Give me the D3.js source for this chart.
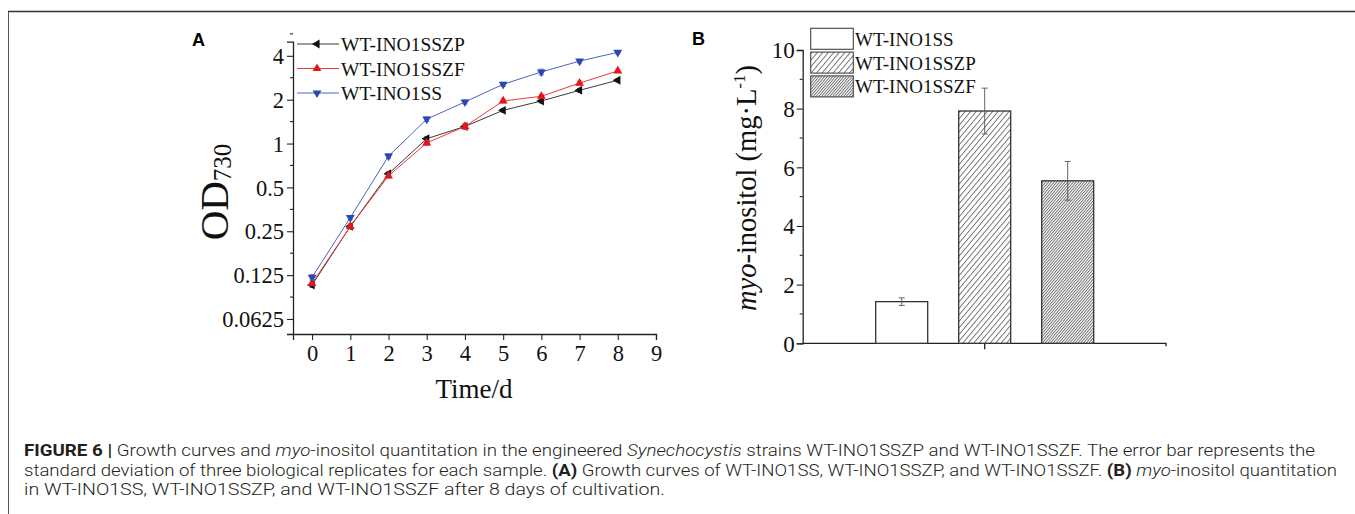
<!DOCTYPE html>
<html>
<head>
<meta charset="utf-8">
<script src="https://cdn.jsdelivr.net/npm/d3@7"></script>
<style>
  body { margin: 0; background: #fff; }
  svg { display: block; }
</style>
</head>
<body>
<div id="fig"></div>
<script>
// panel A data: OD730 over time
var days = [0, 1, 2, 3, 4, 5, 6, 7, 8];
var odSSZP = [0.107, 0.27, 0.62, 1.08, 1.31, 1.69, 1.96, 2.32, 2.72];
var odSSZF = [0.110, 0.27, 0.60, 1.01, 1.31, 1.96, 2.11, 2.60, 3.15];
var odSS   = [0.121, 0.31, 0.82, 1.47, 1.93, 2.55, 3.10, 3.68, 4.23];
var sdSSZP = [0.004, 0.01, 0.02, 0.04, 0.05, 0.05, 0.06, 0.07, 0.07];
var sdSSZF = [0.004, 0.01, 0.02, 0.04, 0.06, 0.06, 0.06, 0.08, 0.08];
var sdSS   = [0.005, 0.01, 0.03, 0.05, 0.06, 0.08, 0.14, 0.10, 0.10];
var odTicks = [0.0625, 0.125, 0.25, 0.5, 1, 2, 4];
var dayTicks = [0, 1, 2, 3, 4, 5, 6, 7, 8, 9];

// panel B data: myo-inositol titre
var strains = ["WT-INO1SS", "WT-INO1SSZP", "WT-INO1SSZF"];
var inositol = [1.42, 7.92, 5.54];
var inositolSd = [0.13, 0.78, 0.66];
var inoTicks = [0, 2, 4, 6, 8, 10];

var W = 1355, H = 514;
var serif = "'Liberation Serif', 'Times New Roman', serif";
var axisCol = "#222";

var svg = d3.select("#fig").append("svg")
  .attr("width", W)
  .attr("height", H);

// frame
svg.append("line").attr("x1", 8.5).attr("y1", 11.5).attr("x2", 8.5).attr("y2", H)
  .attr("stroke", "#555").attr("stroke-width", 1);
svg.append("line").attr("x1", 8).attr("y1", 11.5).attr("x2", W).attr("y2", 11.5)
  .attr("stroke", "#333").attr("stroke-width", 1.6);

// hatch patterns
var defs = svg.append("defs");
function hatch(id, gap) {
  var p = defs.append("pattern")
    .attr("id", id)
    .attr("patternUnits", "userSpaceOnUse")
    .attr("width", gap).attr("height", gap)
    .attr("patternTransform", "rotate(40)");
  p.append("rect").attr("width", gap).attr("height", gap).attr("fill", "#fff");
  p.append("line").attr("x1", 0.5).attr("y1", 0).attr("x2", 0.5).attr("y2", gap)
    .attr("stroke", "#555").attr("stroke-width", 0.8);
}
hatch("hatchP", 4.2);
hatch("hatchF", 2.1);
var fills = ["#fff", "url(#hatchP)", "url(#hatchF)"];

////////////////////////////////////////////
/////////////// Panel A ////////////////////
////////////////////////////////////////////

var xA = d3.scaleLinear().domain([-0.5, 9]).range([293, 656]);
var yA = d3.scaleLog().base(2).domain([0.0493, 5]).range([334, 41.7]);

svg.append("text")
  .attr("x", 192).attr("y", 46)
  .attr("font-family", "'Liberation Sans', Arial, sans-serif")
  .attr("font-weight", "bold").attr("font-size", 18)
  .text("A");

// y axis
var gyA = svg.append("g").attr("transform", "translate(293,0)")
  .call(d3.axisLeft(yA).tickValues(odTicks).tickFormat(d3.format("")).tickSizeOuter(0).tickSize(6));
// minor ticks halfway (in log space)
gyA.selectAll(".minor")
  .data(odTicks.map(function(d) { return d * Math.SQRT2; }))
  .enter().append("line")
  .attr("class", "minor")
  .attr("x1", -3).attr("x2", 0)
  .attr("y1", function(d) { return yA(d); })
  .attr("y2", function(d) { return yA(d); })
  .attr("stroke", axisCol);

// x axis
var gxA = svg.append("g").attr("transform", "translate(0,334)")
  .call(d3.axisBottom(xA).tickValues(dayTicks).tickSizeOuter(0).tickSize(6));

[gyA, gxA].forEach(function(g) {
  g.select(".domain").attr("stroke", axisCol).attr("stroke-width", 1.3);
  g.selectAll(".tick line").attr("stroke", axisCol).attr("stroke-width", 1.1);
  g.selectAll(".minor").attr("stroke-width", 1.1);
  g.selectAll(".tick text")
    .attr("font-family", serif).attr("font-size", 22.5).attr("fill", "#111");
});
gyA.selectAll(".tick text").attr("x", -9).attr("dy", "0.34em");
gxA.selectAll(".tick text").attr("y", 11);

// axis titles
var odLab = svg.append("text")
  .attr("transform", "translate(228,192) rotate(-90)")
  .attr("text-anchor", "middle")
  .attr("font-family", serif).attr("font-size", 41).attr("fill", "#111");
odLab.append("tspan").text("OD");
odLab.append("tspan").attr("font-size", 25).attr("dy", 3).text("730");

svg.append("text")
  .attr("x", 474).attr("y", 398)
  .attr("text-anchor", "middle")
  .attr("font-family", serif).attr("font-size", 27).attr("fill", "#111")
  .text("Time/d");

var seriesA = [
  { name: "WT-INO1SSZP", vals: odSSZP, sd: sdSSZP, line: "#3a3a3a", mark: "#111", rot: -90 },
  { name: "WT-INO1SSZF", vals: odSSZF, sd: sdSSZF, line: "#e83a3a", mark: "#e8141c", rot: 0 },
  { name: "WT-INO1SS",   vals: odSS,   sd: sdSS,   line: "#4a64c4", mark: "#2b48b0", rot: 180 }
];

var lineA = d3.line()
  .x(function(d) { return xA(d[0]); })
  .y(function(d) { return yA(d[1]); });
var tri = d3.symbol().type(d3.symbolTriangle).size(34);

seriesA.forEach(function(s) {
  var pts = days.map(function(t, i) { return [t, s.vals[i], s.sd[i]]; });
  var g = svg.append("g");
  g.append("path")
    .attr("d", lineA(pts))
    .attr("fill", "none")
    .attr("stroke", s.line)
    .attr("stroke-width", 1);
  // error bars
  g.selectAll(".err").data(pts).enter().append("path")
    .attr("d", function(d) {
      var x = xA(d[0]), y1 = yA(d[1] + d[2]), y2 = yA(d[1] - d[2]);
      return "M" + (x - 2.5) + "," + y1 + "H" + (x + 2.5) +
        "M" + x + "," + y1 + "V" + y2 +
        "M" + (x - 2.5) + "," + y2 + "H" + (x + 2.5);
    })
    .attr("stroke", s.line).attr("stroke-width", 0.8).attr("fill", "none");
  g.selectAll(".mk").data(pts).enter().append("path")
    .attr("d", tri)
    .attr("transform", function(d) {
      return "translate(" + xA(d[0]) + "," + yA(d[1]) + ") rotate(" + s.rot + ")";
    })
    .attr("fill", s.mark);
});

// legend A
var legA = svg.append("g");
seriesA.forEach(function(s, i) {
  var y = 44 + i * 24.5;
  legA.append("line")
    .attr("x1", 297).attr("x2", 339).attr("y1", y).attr("y2", y)
    .attr("stroke", s.line).attr("stroke-width", 1);
  legA.append("path")
    .attr("d", tri)
    .attr("transform", "translate(317," + y + ") rotate(" + s.rot + ")")
    .attr("fill", s.mark);
  legA.append("text")
    .attr("x", 341).attr("y", y + 7)
    .attr("font-family", serif).attr("font-size", 19.5).attr("fill", "#111")
    .text(s.name);
});

////////////////////////////////////////////
/////////////// Panel B ////////////////////
////////////////////////////////////////////

var xB = d3.scalePoint().domain(strains).range([901.7, 1067.7]);
var yB = d3.scaleLinear().domain([0, 10]).range([343.3, 50]);
var barW = 52;

svg.append("text")
  .attr("x", 692).attr("y", 45)
  .attr("font-family", "'Liberation Sans', Arial, sans-serif")
  .attr("font-weight", "bold").attr("font-size", 18)
  .text("B");

var gyB = svg.append("g").attr("transform", "translate(802.7,0)")
  .call(d3.axisLeft(yB).tickValues(inoTicks).tickSizeOuter(0).tickSize(6));
gyB.selectAll(".minor")
  .data([1, 3, 5, 7, 9])
  .enter().append("line")
  .attr("class", "minor")
  .attr("x1", -3).attr("x2", 0)
  .attr("y1", function(d) { return yB(d); })
  .attr("y2", function(d) { return yB(d); })
  .attr("stroke", axisCol).attr("stroke-width", 1.1);
gyB.select(".domain").attr("stroke", axisCol).attr("stroke-width", 1.3);
gyB.selectAll(".tick line").attr("stroke", axisCol).attr("stroke-width", 1.1);
gyB.selectAll(".tick text")
  .attr("x", -8).attr("dy", "0.34em")
  .attr("font-family", serif).attr("font-size", 23).attr("fill", "#111");

// x axis of B: plain line with a centre tick
var xMid = xB(strains[1]);
svg.append("path")
  .attr("d", "M802.7," + yB(0) + "H1166V" + (yB(0) + 3) +
    "M" + xMid + "," + yB(0) + "V" + (yB(0) + 6))
  .attr("fill", "none").attr("stroke", axisCol).attr("stroke-width", 1.3);

// bars
svg.selectAll(".bar").data(strains).enter().append("rect")
  .attr("class", "bar")
  .attr("x", function(d) { return xB(d) - barW / 2; })
  .attr("y", function(d, i) { return yB(inositol[i]); })
  .attr("width", barW)
  .attr("height", function(d, i) { return yB(0) - yB(inositol[i]); })
  .attr("fill", function(d, i) { return fills[i]; })
  .attr("stroke", "#333").attr("stroke-width", 1.3);

// error bars
svg.selectAll(".errB").data(strains).enter().append("path")
  .attr("d", function(d, i) {
    var x = xB(d), y1 = yB(inositol[i] + inositolSd[i]), y2 = yB(inositol[i] - inositolSd[i]);
    return "M" + (x - 3) + "," + y1 + "H" + (x + 3) +
      "M" + x + "," + y1 + "V" + y2 +
      "M" + (x - 3) + "," + y2 + "H" + (x + 3);
  })
  .attr("fill", "none").attr("stroke", "#555").attr("stroke-width", 0.9);

// y title B
var inoLab = svg.append("text")
  .attr("transform", "translate(756,188) rotate(-90)")
  .attr("text-anchor", "middle")
  .attr("font-family", serif).attr("font-size", 28.5).attr("fill", "#111");
inoLab.append("tspan").attr("font-style", "italic").text("myo");
inoLab.append("tspan").text("-inositol (mg\u00b7L");
inoLab.append("tspan").attr("font-size", 17).attr("dy", -11).text("-1");
inoLab.append("tspan").attr("dy", 11).text(")");

// legend B
strains.forEach(function(s, i) {
  var y = 28.3 + i * 23.8;
  svg.append("rect")
    .attr("x", 810.7).attr("y", y)
    .attr("width", 42.6).attr("height", 21)
    .attr("fill", fills[i])
    .attr("stroke", "#444").attr("stroke-width", 1.1);
  svg.append("text")
    .attr("x", 855).attr("y", y + 17.5)
    .attr("font-family", serif).attr("font-size", 19).attr("fill", "#111")
    .text(s);
});

////////////////////////////////////////////
/////////////// Caption ////////////////////
////////////////////////////////////////////

var capFont = "Roboto, 'Liberation Sans', Arial, sans-serif";
var caption = [
  { y: 456, end: 1315, parts: [
    ["FIGURE 6 | ", "b"], ["Growth curves and ", ""], ["myo", "i"], ["-inositol quantitation in the engineered ", ""],
    ["Synechocystis", "i"], [" strains WT-INO1SSZP and WT-INO1SSZF. The error bar represents the", ""]] },
  { y: 476, end: 1337, parts: [
    ["standard deviation of three biological replicates for each sample. ", ""], ["(A)", "b"],
    [" Growth curves of WT-INO1SS, WT-INO1SSZP, and WT-INO1SSZF. ", ""], ["(B)", "b"], [" ", ""],
    ["myo", "i"], ["-inositol quantitation", ""]] },
  { y: 495, end: 665, parts: [
    ["in WT-INO1SS, WT-INO1SSZP, and WT-INO1SSZF after 8 days of cultivation.", ""]] }
];
caption.forEach(function(c) {
  var t = svg.append("text")
    .attr("x", 24).attr("y", c.y)
    .attr("font-family", capFont).attr("font-size", 16.5).attr("font-weight", 300)
    .attr("fill", "#231f20")
    .attr("textLength", c.end - 24)
    .attr("lengthAdjust", "spacingAndGlyphs")
    .attr("xml:space", "preserve")
    .style("white-space", "pre");
  c.parts.forEach(function(p) {
    t.append("tspan")
      .attr("font-weight", p[1] === "b" ? 700 : null)
      .attr("font-style", p[1] === "i" ? "italic" : null)
      .text(p[0]);
  });
});
</script>
</body>
</html>
